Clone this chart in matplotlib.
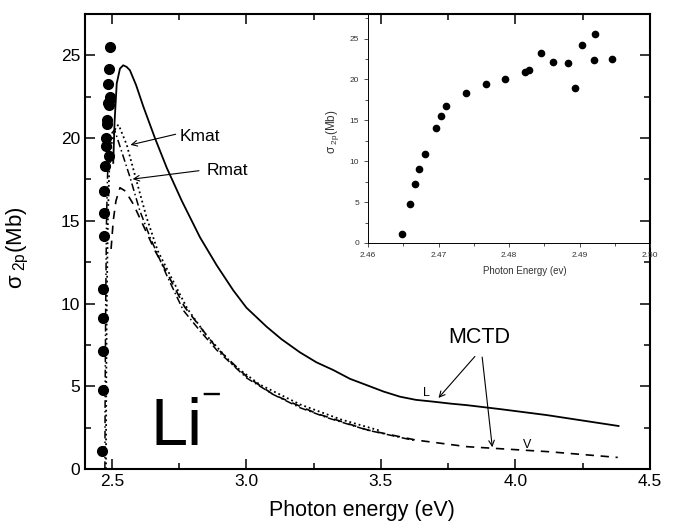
import numpy as np
import matplotlib
matplotlib.use('Agg')
import matplotlib.pyplot as plt
from matplotlib.ticker import MultipleLocator

# ------------------------------------------------------------------------------------------------------
# Data

# experimental points (photon energy in eV, cross section in Mb)
exp_energy = [2.4648, 2.4659, 2.4666, 2.4672, 2.4681, 2.4697, 2.4704, 2.4711, 2.4739, 2.4768,
              2.4795, 2.4822, 2.4829, 2.4845, 2.4863, 2.4883, 2.4893, 2.4903, 2.4922, 2.4920, 2.4946]
exp_sigma = [1.1, 4.76, 7.16, 9.1, 10.9, 14.1, 15.5, 16.8, 18.3, 19.5,
             20.0, 20.85, 21.1, 23.25, 22.1, 22.0, 18.9, 24.2, 25.5, 22.35, 22.5]

# MCTD length form (solid)
mctd_l_energy = [2.505, 2.51, 2.518, 2.53, 2.542, 2.555, 2.567, 2.59, 2.617, 2.66, 2.704, 2.76,
                 2.8275, 2.89, 2.951, 3.0, 3.075, 3.13, 3.199, 3.26, 3.323, 3.385, 3.447, 3.51,
                 3.571, 3.63, 3.695, 3.76, 3.819, 3.943, 4.116, 4.383]
mctd_l_sigma = [18.5, 21.0, 23.3, 24.2, 24.4, 24.3, 24.1, 23.2, 21.9, 20.0, 18.2, 16.2,
                14.0, 12.3, 10.8, 9.75, 8.6, 7.85, 7.05, 6.45, 5.98, 5.45, 5.07, 4.68,
                4.37, 4.18, 4.07, 3.95, 3.86, 3.62, 3.26, 2.6]

# MCTD velocity form (dashed)
mctd_v_energy = [2.497, 2.505, 2.515, 2.53, 2.55, 2.58, 2.62, 2.66, 2.70, 2.77, 2.89, 3.0,
                 3.1, 3.26, 3.45, 3.63, 3.82, 3.92, 4.12, 4.38]
mctd_v_sigma = [13.3, 15.0, 16.2, 17.0, 16.8, 16.0, 14.6, 13.2, 12.0, 9.8, 7.3, 5.6,
                4.5, 3.36, 2.36, 1.75, 1.35, 1.25, 1.05, 0.70]

# Kmat (dotted)
kmat_energy = [2.478, 2.479, 2.481, 2.485, 2.49, 2.50, 2.515, 2.525, 2.555, 2.59, 2.629, 2.67,
               2.72, 2.78, 2.85, 2.95, 3.05, 3.2, 3.35, 3.5]
kmat_sigma = [0.0, 5.0, 10.0, 15.0, 18.0, 19.8, 20.7, 20.8, 19.6, 17.5, 15.2, 13.2,
              11.6, 9.7, 8.1, 6.3, 5.1, 3.9, 3.0, 2.3]

# Rmat (dash-dot)
rmat_energy = [2.474, 2.475, 2.477, 2.48, 2.485, 2.495, 2.51, 2.53, 2.567, 2.604, 2.642, 2.704,
               2.765, 2.83, 2.889, 3.001, 3.1, 3.2, 3.3, 3.45, 3.63]
rmat_sigma = [0.0, 5.0, 10.0, 15.0, 18.5, 20.2, 20.5, 19.5, 17.65, 15.6, 14.0, 11.7,
              9.6, 8.3, 7.2, 5.5, 4.5, 3.7, 3.1, 2.35, 1.7]

# ------------------------------------------------------------------------------------------------------
# Plot

plt.rcParams['font.family'] = ['Liberation Sans', 'DejaVu Sans']
plt.rcParams['mathtext.fontset'] = 'custom'
plt.rcParams['mathtext.rm'] = 'Liberation Sans'
plt.rcParams['mathtext.it'] = 'Liberation Sans'

fig = plt.figure(figsize=(6.75, 5.22), dpi=100)
ax = fig.add_axes([0.1259, 0.1015, 0.8371, 0.8717])

ax.plot(mctd_l_energy, mctd_l_sigma, '-', color='black', lw=1.3)
ax.plot(mctd_v_energy, mctd_v_sigma, color='black', lw=1.2, dashes=(5, 4))
ax.plot(kmat_energy, kmat_sigma, ':', color='black', lw=1.3)
ax.plot(rmat_energy, rmat_sigma, color='black', lw=1.1, dashes=(5, 2, 1, 2))
ax.plot(exp_energy, exp_sigma, 'o', color='black', ms=7, zorder=5)

ax.set_xlim(2.4, 4.5)
ax.set_ylim(0, 27.5)
ax.xaxis.set_major_locator(MultipleLocator(0.5))
ax.xaxis.set_minor_locator(MultipleLocator(0.25))
ax.yaxis.set_major_locator(MultipleLocator(5))
ax.yaxis.set_minor_locator(MultipleLocator(2.5))
ax.tick_params(which='both', direction='in', top=True, right=True, labelsize=12.5, width=1.1)
ax.tick_params(which='major', length=7)
ax.tick_params(which='minor', length=4)
for s in ax.spines.values():
    s.set_linewidth(1.5)

ax.set_xlabel('Photon energy (eV)', fontsize=15.5)
ax.xaxis.set_label_coords(0.491, -0.068)
ax.set_ylabel('σ$_{\\mathregular{\\ 2p}}$(Mb)', fontsize=16)
ax.yaxis.set_label_coords(-0.095, 0.486)

# labels and arrows
arrow = dict(arrowstyle='->', color='black', lw=0.8, mutation_scale=10)
ax.annotate('', xy=(2.559, 19.55), xytext=(2.747, 20.27), arrowprops=arrow)
ax.text(2.753, 20.1, 'Kmat', fontsize=12.5, va='center', ha='left')
ax.annotate('', xy=(2.567, 17.5), xytext=(2.834, 18.05), arrowprops=arrow)
ax.text(2.852, 18.05, 'Rmat', fontsize=12.5, va='center', ha='left')

ax.text(3.865, 7.3, 'MCTD', fontsize=15.5, va='bottom', ha='center')
ax.annotate('', xy=(3.707, 4.17), xytext=(3.856, 6.93), arrowprops=arrow)
ax.annotate('', xy=(3.915, 1.15), xytext=(3.875, 6.93), arrowprops=arrow)
ax.text(3.668, 4.57, 'L', fontsize=9, ha='center', va='center')
ax.text(4.042, 1.45, 'V', fontsize=9, ha='center', va='center')

ax.text(2.645, 1.45, 'Li', fontsize=48, ha='left', va='baseline')
ax.text(2.868, 4.4, '−', fontsize=24, ha='center', va='center')

# inset with the experimental points
ins = fig.add_axes([0.5452, 0.5345, 0.4178, 0.4387])
ins.plot(exp_energy, exp_sigma, 'o', color='black', ms=4.5)
ins.set_xlim(2.46, 2.50)
ins.set_ylim(0, 28)
ins.xaxis.set_major_locator(MultipleLocator(0.01))
ins.xaxis.set_minor_locator(MultipleLocator(0.005))
ins.yaxis.set_major_locator(MultipleLocator(5))
ins.yaxis.set_minor_locator(MultipleLocator(2.5))
ins.set_xticks([2.46, 2.47, 2.48, 2.49, 2.50])
ins.set_xticklabels(['2.46', '2.47', '2.48', '2.49', '2.50'])
ins.tick_params(which='both', direction='out', labelsize=6, width=0.6, colors='#333333')
ins.tick_params(which='major', length=3)
ins.tick_params(which='minor', length=2)
ins.spines['top'].set_visible(False)
ins.spines['right'].set_visible(False)
ins.spines['left'].set_linewidth(0.7)
ins.spines['bottom'].set_linewidth(0.7)
ins.patch.set_alpha(0)
ins.set_xlabel('Photon Energy (ev)', fontsize=7, color='#333333')
ins.xaxis.set_label_coords(0.557, -0.1)
ins.set_ylabel('σ$_{\\mathregular{\\ 2p}}$(Mb)', fontsize=8.5, color='#333333')
ins.yaxis.set_label_coords(-0.096, 0.485)

plt.savefig('out.png', dpi=100)
